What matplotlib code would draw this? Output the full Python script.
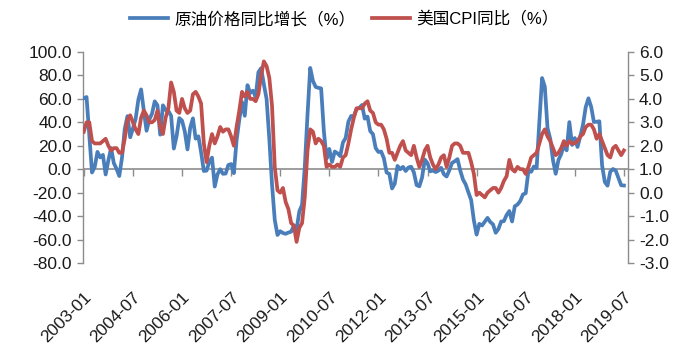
import matplotlib
matplotlib.use('Agg')
import matplotlib.pyplot as plt
import matplotlib.markers as mmarkers
import numpy as np

plt.rcParams['font.family'] = ['Liberation Sans', 'Noto Sans CJK SC']
plt.rcParams['axes.unicode_minus'] = False

# monthly categories 2003-01 .. 2019-07
months = [f"{y}-{m:02d}" for y in range(2003, 2020) for m in range(1, 13)][:199]

tick_labels = ['2003-01', '2004-07', '2006-01', '2007-07', '2009-01', '2010-07',
               '2012-01', '2013-07', '2015-01', '2016-07', '2018-01', '2019-07']

# 原油价格同比增长（%）
oil_yoy = [
    60.6, 61.6, 29.2, -2.8, 2.0, 14.8, 10.1, 12.2, -4.5, 7.5, 18.1, 5.2,
    0.3, -5.8, 9.9, 34.4, 45.3, 27.2, 34.8, 43.0, 59.4, 68.1, 49.9, 32.8,
    42.3, 47.4, 57.9, 54.5, 29.5, 54.5, 50.5, 49.7, 45.6, 17.6, 28.1, 43.6,
    41.5, 32.4, 16.9, 35.4, 43.4, 26.1, 28.1, 14.5, -1.5, -1.2, 6.4, 9.9,
    -14.8, -4.4, 0.0, -3.9, -3.7, 3.6, 4.4, -3.4, 24.5, 42.4, 57.3, 45.6,
    71.7, 65.0, 67.0, 61.6, 82.7, 86.2, 72.5, 60.0, 26.0, -13.1, -43.2, -56.1,
    -52.9, -54.4, -55.1, -54.0, -53.3, -48.1, -51.4, -36.0, -30.4, 1.7, 46.2, 86.4,
    75.3, 70.2, 69.4, 69.0, 32.5, 9.0, 17.3, 6.2, 15.1, 13.6, 11.2, 22.8,
    26.7, 40.6, 45.4, 45.3, 51.4, 52.3, 54.8, 43.1, 44.9, 32.5, 29.9, 18.0,
    14.7, 15.1, 9.4, -2.8, -4.0, -16.4, -12.3, 2.8, 0.0, 2.0, -1.5, 1.5,
    2.1, -2.7, -13.5, -14.6, -7.1, 8.2, 5.2, -1.8, -1.1, -2.4, -1.2, 1.2,
    -4.3, -6.2, -0.9, 5.4, 6.8, 8.6, -1.1, -8.7, -13.0, -19.8, -26.3, -43.7,
    -55.8, -46.6, -48.0, -44.8, -41.5, -45.0, -47.0, -54.2, -51.0, -44.6, -44.3, -39.0,
    -35.7, -44.6, -31.6, -30.1, -27.1, -21.5, -20.5, -1.5, -2.2, 2.3, 1.0, 40.3,
    77.8, 70.5, 35.0, 25.8, 7.7, -3.9, 7.9, 12.8, 20.6, 16.1, 40.2, 20.7,
    26.6, 19.0, 28.0, 37.9, 53.0, 60.5, 53.2, 40.3, 40.5, 40.9, 3.3, -10.9,
    -14.0, -2.1, 0.2, -1.2, -7.4, -13.7, -13.9,
]

# 美国CPI同比（%）
cpi_yoy = [
    2.6, 3.0, 3.0, 2.2, 2.1, 2.1, 2.1, 2.2, 2.3, 2.0, 1.8, 1.9,
    1.9, 1.7, 1.7, 2.3, 3.1, 3.3, 3.0, 2.7, 2.5, 3.2, 3.5, 3.3,
    3.0, 3.0, 3.1, 3.5, 2.8, 2.5, 3.2, 3.6, 4.7, 4.3, 3.5, 3.4,
    4.0, 3.6, 3.4, 3.5, 4.2, 4.3, 4.1, 3.8, 2.1, 1.3, 2.0, 2.5,
    2.1, 2.4, 2.8, 2.6, 2.7, 2.7, 2.4, 2.0, 2.8, 3.5, 4.3, 4.1,
    4.3, 4.0, 4.0, 3.9, 4.2, 5.0, 5.6, 5.4, 4.9, 3.7, 1.1, 0.1,
    0.0, 0.2, -0.4, -0.7, -1.3, -1.4, -2.1, -1.5, -1.3, -0.2, 1.8, 2.7,
    2.6, 2.1, 2.3, 2.2, 2.0, 1.1, 1.2, 1.1, 1.1, 1.2, 1.1, 1.5,
    1.6, 2.1, 2.7, 3.2, 3.6, 3.6, 3.6, 3.8, 3.9, 3.5, 3.4, 3.0,
    2.9, 2.9, 2.7, 2.3, 1.7, 1.7, 1.4, 1.7, 2.0, 2.2, 1.8, 1.7,
    1.6, 2.0, 1.5, 1.1, 1.4, 1.8, 2.0, 1.5, 1.2, 1.0, 1.2, 1.5,
    1.6, 1.1, 1.5, 2.0, 2.1, 2.1, 2.0, 1.7, 1.7, 1.7, 1.3, 0.8,
    -0.1, 0.0, -0.1, -0.2, 0.0, 0.1, 0.2, 0.2, 0.0, 0.2, 0.5, 0.7,
    1.4, 1.0, 0.9, 1.1, 1.0, 1.0, 0.8, 1.1, 1.5, 1.6, 1.7, 2.1,
    2.5, 2.7, 2.4, 2.2, 1.9, 1.6, 1.7, 1.9, 2.2, 2.0, 2.2, 2.1,
    2.1, 2.2, 2.4, 2.5, 2.8, 2.9, 2.9, 2.7, 2.3, 2.5, 2.2, 1.9,
    1.6, 1.5, 1.9, 2.0, 1.8, 1.6, 1.8,
]

left_ticks = [-80, -60, -40, -20, 0, 20, 40, 60, 80, 100]
right_ticks = [-3, -2, -1, 0, 1, 2, 3, 4, 5, 6]

labels = ['原油价格同比增长（%）', '美国CPI同比（%）']
BLUE = '#4a7ebb'
RED = '#c0504d'
GRAY = '#8c8c8c'

x = np.arange(len(months))
tick_pos = [months.index(t) for t in tick_labels]

fig = plt.figure(figsize=(6.95, 3.51), dpi=100)
ax = fig.add_axes([83 / 695, 88 / 351, 545 / 695, 211 / 351])
ax2 = ax.twinx()

l1, = ax.plot(x, oil_yoy, color=BLUE, lw=2.7, solid_joinstyle='round', zorder=3)
l2, = ax2.plot(x, cpi_yoy, color=RED, lw=2.7, solid_joinstyle='round', zorder=3)

ax.set_xlim(-0.3, 199.5)
ax.set_ylim(-80, 100)
ax2.set_ylim(-3, 6)

ax.set_yticks(left_ticks)
ax.set_yticklabels([f"{v:.1f}" for v in left_ticks])
ax2.set_yticks(right_ticks)
ax2.set_yticklabels([f"{v:.1f}" for v in right_ticks])

for a in (ax, ax2):
    for s in ('top', 'bottom'):
        a.spines[s].set_visible(False)
ax.spines['right'].set_visible(False)
ax2.spines['left'].set_visible(False)
ax.spines['left'].set_color(GRAY)
ax2.spines['right'].set_color(GRAY)
ax.spines['left'].set_linewidth(1.0)
ax2.spines['right'].set_linewidth(1.0)

ax.tick_params(axis='y', direction='out', length=4, width=1, color=GRAY,
               labelsize=12.5, pad=4, labelcolor='#1a1a1a')
ax2.tick_params(axis='y', direction='out', length=4, width=1, color=GRAY,
                labelsize=12.5, pad=4, labelcolor='#1a1a1a')

# zero line acting as category axis
ax.axhline(0, color=GRAY, lw=1.2, zorder=2)
ax.plot(tick_pos, [0] * len(tick_pos), ls='none', marker=mmarkers.TICKDOWN,
        ms=5, mew=1, color=GRAY, clip_on=False, zorder=2)

ax.set_xticks(tick_pos)
ax.set_xticklabels(tick_labels)
ax.tick_params(axis='x', length=0, labelsize=12.5, pad=19, labelcolor='#1a1a1a')
for lab in ax.get_xticklabels():
    lab.set_rotation(45)
    lab.set_ha('right')
    lab.set_va('top')
    lab.set_rotation_mode('anchor')

fig.legend([l1, l2], labels, loc='center', bbox_to_anchor=(0.495, 0.946),
           ncol=2, frameon=False, fontsize=12, handlelength=2.3,
           columnspacing=1.0, handletextpad=0.35)

fig.savefig('out.png', dpi=100)
